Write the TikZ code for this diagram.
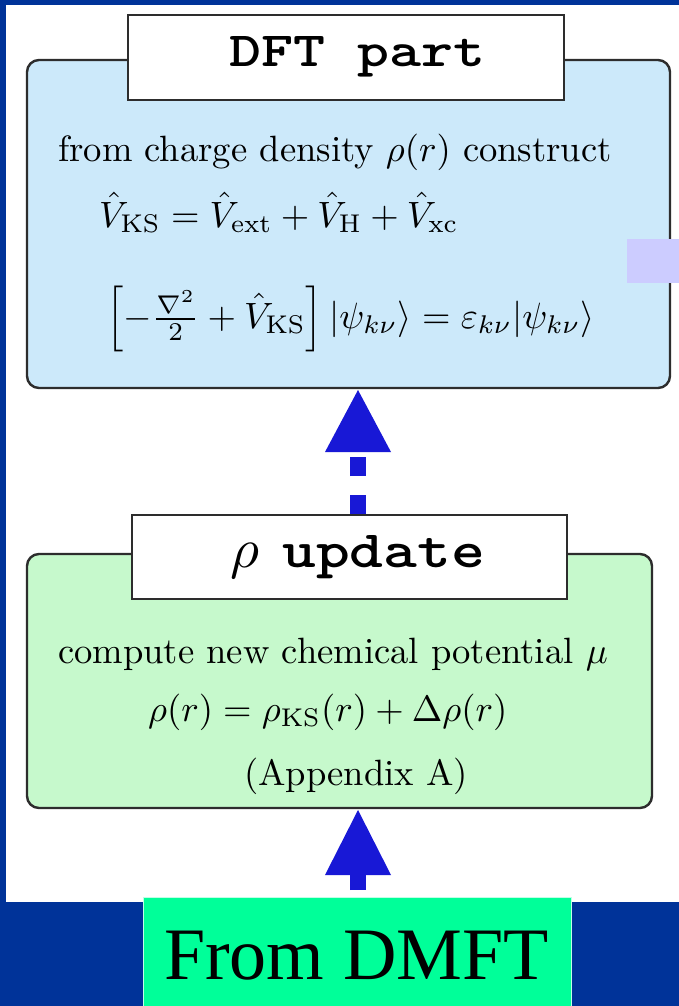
\documentclass[tikz,border=0pt]{standalone}
\usepackage{graphicx}
\usepackage{fontspec}
\newfontfamily\timesfont{Liberation Serif}
\definecolor{bgblue}{RGB}{0,51,153}
\definecolor{dftfill}{RGB}{204,233,250}
\definecolor{rhofill}{RGB}{198,249,204}
\definecolor{arrowblue}{RGB}{24,24,214}
\definecolor{purplepatch}{RGB}{204,204,255}
\definecolor{dmftgreen}{RGB}{0,255,153}
\definecolor{edgegray}{RGB}{45,45,45}
\tikzset{
  panel/.style={draw=edgegray, line width=2.4pt, rounded corners=12pt, inner sep=0pt},
  titlebox/.style={draw=edgegray, line width=2pt, fill=white, inner sep=0pt},
  txt/.style={anchor=base west, inner sep=0pt},
  shaft/.style={draw=arrowblue, line width=16pt},
  head/.style={fill=arrowblue},
}
\begin{document}
\begin{tikzpicture}[x=1pt,y=-1pt]
\useasboundingbox (0,0) rectangle (679,1006);
% background frame
\fill[bgblue] (0,0) rectangle (679,1006);
\fill[white] (6,5) rectangle (679,902);
% DFT panel
\node[panel, fill=dftfill, minimum width=643pt, minimum height=328pt] (dft) at (348.5,224) {};
\fill[purplepatch] (627,239) rectangle (679,283);
\node[titlebox, minimum width=436pt, minimum height=85pt] (dfttitle) at (346,57.5) {};
\node[txt] (dftlabel) at (229,67) {\resizebox{256pt}{30pt}{\ttfamily\bfseries DFT part}};
\node[txt] (l1) at (58,161) {\scalebox{3.66}{from charge density $\rho(r)$ construct}};
\node[txt] (l2) at (99,227) {\scalebox{3.66}{$\hat V_{\mathrm{KS}}=\hat V_{\mathrm{ext}}+\hat V_{\mathrm{H}}+\hat V_{\mathrm{xc}}$}};
\node[txt] (l3) at (106,328) {\scalebox{3.66}{$\Bigl[-\frac{\nabla^2}{2}+\hat V_{\mathrm{KS}}\Bigr]\,|\psi_{k\nu}\rangle=\varepsilon_{k\nu}|\psi_{k\nu}\rangle$}};
% rho panel
\node[panel, fill=rhofill, minimum width=625pt, minimum height=254pt] (rho) at (339.5,681) {};
\node[titlebox, minimum width=435pt, minimum height=84pt] (rhotitle) at (349.5,557) {};
\node[txt] (rholabelA) at (230,567) {\scalebox{5.6}{$\rho$}};
\node[txt] (rholabelB) at (282,567) {\resizebox{203pt}{32pt}{\ttfamily\bfseries update}};
\node[txt] (m1) at (58,663) {\scalebox{3.66}{compute new chemical potential $\mu$}};
\node[txt] (m2) at (148,721) {\scalebox{3.66}{$\rho(r)=\rho_{\mathrm{KS}}(r)+\Delta\rho(r)$}};
\node[txt] (m3) at (244,785) {\scalebox{3.66}{(Appendix A)}};
% From DMFT box
\node[fill=dmftgreen, draw=white!75!dmftgreen, line width=1pt, inner sep=0pt, minimum width=428pt, minimum height=112pt] (dmft) at (357,953) {};
\node[txt] (dmftlabel) at (164,979) {\fontsize{74}{80}\selectfont\timesfont From DMFT};
% arrow from rho update to DFT part (dashed)
\coordinate (a1tip) at (358,390);
\coordinate (a1base) at (358,452);
\draw[shaft, dash pattern=on 19pt off 19pt] (a1base |- rhotitle.north) -- (a1base);
\fill[head] (a1tip) -- ([xshift=-33pt]a1base) -- ([xshift=33pt]a1base) -- cycle;
% arrow from DMFT to rho panel
\coordinate (a2tip) at (358,810);
\coordinate (a2base) at (358,875);
\coordinate (a2start) at (358,890);
\draw[shaft] (a2start) -- (a2base);
\fill[head] (a2tip) -- ([xshift=-33pt]a2base) -- ([xshift=33pt]a2base) -- cycle;
\end{tikzpicture}
\end{document}
